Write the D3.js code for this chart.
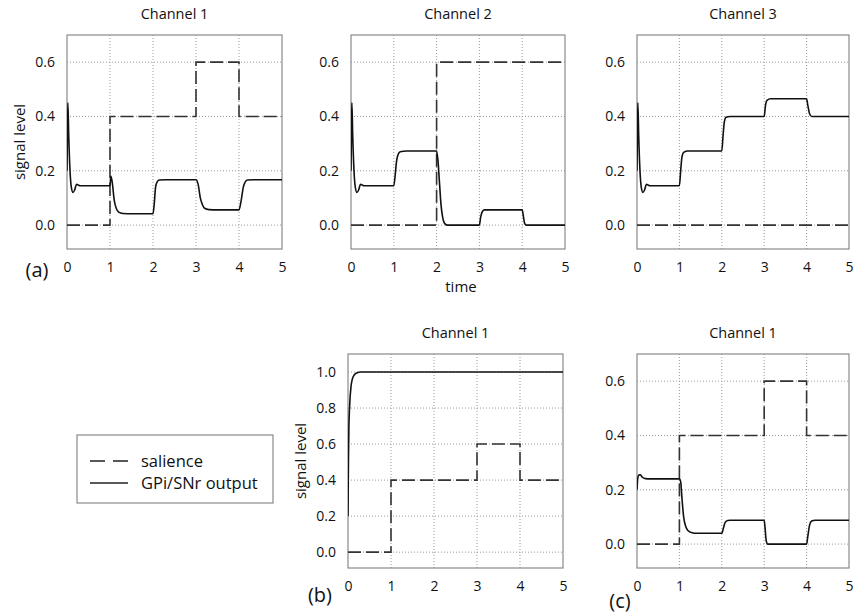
<!DOCTYPE html>
<html><head><meta charset="utf-8">
<script src="https://cdn.jsdelivr.net/npm/d3@7"></script>
<style>body{margin:0;background:#fff}svg{display:block}text{font-family:"Open Sans",sans-serif;fill:#111}</style>
</head><body><svg id="c" width="855" height="615"></svg>
<script>
// ---- data ----
const xTicks = [0,1,2,3,4,5];
const yTicksSmall = [0.0,0.2,0.4,0.6];
const yTicksLarge = [0.0,0.2,0.4,0.6,0.8,1.0];
const panelTitles = ["Channel 1","Channel 2","Channel 3","Channel 1","Channel 1"];
const legendLabels = ["salience","GPi/SNr output"];

// salience steps: [time, value] (step-after)
const salienceCh1 = [[0,0],[1,0.4],[3,0.6],[4,0.4],[5,0.4]];
const salienceCh2 = [[0,0],[2,0.6],[5,0.6]];
const salienceCh3 = [[0,0],[5,0]];

// GPi/SNr outputs
const outputA1 = [[0,0.2],[0.01,0.35],[0.02,0.45],[0.04,0.33],[0.07,0.2],[0.1,0.14],[0.14,0.12],[0.18,0.13],[0.22,0.15],[0.26,0.148],[0.3,0.145],[1.0,0.145],[1.02,0.18],[1.05,0.16],[1.1,0.09],[1.15,0.06],[1.2,0.048],[1.3,0.043],[1.5,0.042],[2.0,0.042],[2.03,0.08],[2.06,0.14],[2.1,0.16],[2.15,0.166],[2.3,0.167],[3.0,0.167],[3.05,0.15],[3.1,0.1],[3.15,0.075],[3.2,0.062],[3.3,0.057],[3.5,0.056],[4.0,0.056],[4.05,0.09],[4.1,0.14],[4.15,0.16],[4.2,0.166],[4.35,0.167],[5,0.167]];
const outputA2 = [[0,0.2],[0.01,0.35],[0.02,0.45],[0.04,0.33],[0.07,0.2],[0.1,0.14],[0.14,0.12],[0.18,0.13],[0.22,0.15],[0.26,0.148],[0.3,0.145],[1.0,0.145],[1.03,0.18],[1.06,0.23],[1.1,0.26],[1.15,0.27],[1.3,0.273],[2.0,0.273],[2.03,0.24],[2.07,0.15],[2.1,0.08],[2.14,0.03],[2.18,0.008],[2.25,0],[3.0,0],[3.03,0.03],[3.07,0.05],[3.12,0.056],[4.0,0.056],[4.03,0.03],[4.06,0.005],[4.1,0],[5,0]];
const outputA3 = [[0,0.2],[0.01,0.35],[0.02,0.45],[0.04,0.33],[0.07,0.2],[0.1,0.14],[0.14,0.12],[0.18,0.13],[0.22,0.15],[0.26,0.148],[0.3,0.145],[1.0,0.145],[1.03,0.2],[1.06,0.25],[1.1,0.268],[1.2,0.273],[2.0,0.273],[2.03,0.33],[2.06,0.38],[2.1,0.397],[2.2,0.4],[3.0,0.4],[3.03,0.44],[3.07,0.46],[3.15,0.465],[4.0,0.465],[4.03,0.44],[4.07,0.41],[4.12,0.4],[5,0.4]];
const outputB = [[0,0.2],[0.01,0.5],[0.02,0.68],[0.04,0.82],[0.07,0.92],[0.1,0.96],[0.15,0.985],[0.2,0.995],[0.3,1.0],[5,1.0]];
const outputC = [[0,0.2],[0.02,0.245],[0.05,0.255],[0.08,0.255],[0.12,0.247],[0.2,0.241],[0.3,0.24],[1.0,0.24],[1.03,0.23],[1.06,0.17],[1.1,0.1],[1.15,0.065],[1.2,0.05],[1.3,0.042],[1.4,0.04],[2.0,0.04],[2.04,0.06],[2.08,0.08],[2.14,0.087],[2.2,0.088],[3.0,0.088],[3.02,0.06],[3.05,0.01],[3.08,0],[4.0,0],[4.03,0.03],[4.07,0.07],[4.12,0.085],[4.2,0.088],[5,0.088]];

// ---- layout ----
const panels = [
  {l:67,r:282,t:35,b:249,ymax:0.7,yt:yTicksSmall,title:panelTitles[0],sal:salienceCh1,out:outputA1,ylab:true},
  {l:351,r:565,t:35,b:249,ymax:0.7,yt:yTicksSmall,title:panelTitles[1],sal:salienceCh2,out:outputA2},
  {l:637,r:849,t:35,b:249,ymax:0.7,yt:yTicksSmall,title:panelTitles[2],sal:salienceCh3,out:outputA3},
  {l:348,r:563,t:354,b:568,ymax:1.1,yt:yTicksLarge,title:panelTitles[3],sal:salienceCh1,out:outputB,ylab:true},
  {l:637,r:849,t:354,b:568,ymax:0.7,yt:yTicksSmall,title:panelTitles[4],sal:salienceCh1,out:outputC}
];
const svg = d3.select("#c");

panels.forEach(p=>{
  const x = d3.scaleLinear().domain([0,5]).range([p.l,p.r]);
  const y = d3.scaleLinear().domain([-0.088,p.ymax]).range([p.b,p.t]);
  const g = svg.append("g");
  g.selectAll(".gx").data(xTicks.slice(1,-1)).join("line")
    .attr("x1",d=>x(d)).attr("x2",d=>x(d)).attr("y1",p.t).attr("y2",p.b)
    .attr("stroke","#9a9a9a").attr("stroke-width",1).attr("stroke-dasharray","1,2");
  g.selectAll(".gy").data(p.yt).join("line")
    .attr("x1",p.l).attr("x2",p.r).attr("y1",d=>y(d)).attr("y2",d=>y(d))
    .attr("stroke","#9a9a9a").attr("stroke-width",1).attr("stroke-dasharray","1,2");
  g.append("rect").attr("x",p.l).attr("y",p.t).attr("width",p.r-p.l).attr("height",p.b-p.t)
    .attr("fill","none").attr("stroke","#8a8a8a").attr("stroke-width",1.2);
  const ax = g.append("g").attr("transform",`translate(0,${p.b})`)
    .call(d3.axisBottom(x).tickValues(xTicks).tickFormat(d3.format("d")).tickSize(0).tickPadding(13));
  ax.select(".domain").remove();
  ax.selectAll("text").attr("font-size",14).attr("fill","#111").attr("font-family","Open Sans, sans-serif");
  const ay = g.append("g").attr("transform",`translate(${p.l},0)`)
    .call(d3.axisLeft(y).tickValues(p.yt).tickFormat(d3.format(".1f")).tickSize(0).tickPadding(12));
  ay.select(".domain").remove();
  ay.selectAll("text").attr("font-size",14).attr("fill","#111").attr("font-family","Open Sans, sans-serif");
  g.append("text").attr("x",(p.l+p.r)/2).attr("y",p.t-16).attr("text-anchor","middle")
    .attr("font-size",14.5).text(p.title);
  if(p.ylab){
    g.append("text").attr("transform",`translate(${p.l-47},${(p.t+p.b)/2}) rotate(-90)`)
      .attr("text-anchor","middle").attr("dy","0.35em").attr("font-size",15).text("signal level");
  }
  const clip = "clip"+p.l+"_"+p.t;
  g.append("clipPath").attr("id",clip).append("rect").attr("x",p.l).attr("y",p.t).attr("width",p.r-p.l).attr("height",p.b-p.t);
  const sl = d3.line().x(d=>x(d[0])).y(d=>y(d[1])).curve(d3.curveStepAfter);
  g.append("path").datum(p.sal).attr("d",sl).attr("fill","none").attr("stroke","#333")
    .attr("stroke-width",1.6).attr("stroke-dasharray","13,5").attr("clip-path",`url(#${clip})`);
  const ol = d3.line().x(d=>x(d[0])).y(d=>y(d[1])).curve(d3.curveMonotoneX);
  g.append("path").datum(p.out).attr("d",ol).attr("fill","none").attr("stroke","#111")
    .attr("stroke-width",1.6).attr("clip-path",`url(#${clip})`);
});

svg.append("text").attr("x",37).attr("y",277).attr("text-anchor","middle").attr("font-size",20).text("(a)");
svg.append("text").attr("x",320).attr("y",602).attr("text-anchor","middle").attr("font-size",20).text("(b)");
svg.append("text").attr("x",620).attr("y",608).attr("text-anchor","middle").attr("font-size",20).text("(c)");
svg.append("text").attr("x",461).attr("y",292).attr("text-anchor","middle").attr("font-size",15).text("time");

const lg = svg.append("g");
lg.append("rect").attr("x",77).attr("y",435).attr("width",196).attr("height",68)
  .attr("fill","#fff").attr("stroke","#8a8a8a").attr("stroke-width",1.2);
const styles = [{dash:"15,8"},{dash:null}];
legendLabels.forEach((lab,i)=>{
  const yy = 461 + i*22;
  lg.append("line").attr("x1",90).attr("x2",128).attr("y1",yy).attr("y2",yy)
    .attr("stroke","#222").attr("stroke-width",1.4).attr("stroke-dasharray",styles[i].dash);
  lg.append("text").attr("x",141).attr("y",yy).attr("dy","0.35em").attr("font-size",16.5).text(lab);
});
</script></body></html>
